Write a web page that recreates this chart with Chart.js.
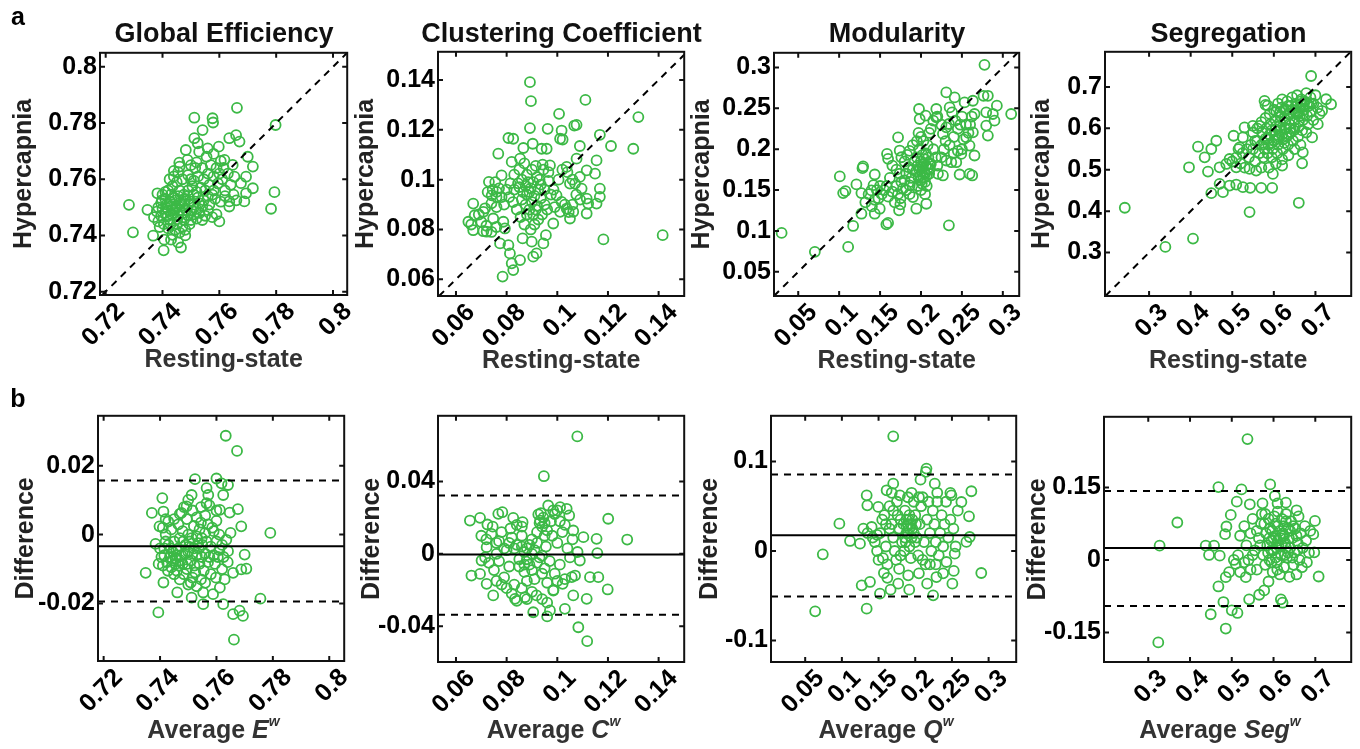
<!DOCTYPE html>
<html>
<head>
<meta charset="utf-8">
<script src="https://cdn.jsdelivr.net/npm/chart.js@4.4.1/dist/chart.umd.min.js"></script>
<style>
  body { margin: 0; background: #fff; }
  #fig { position: relative; width: 1360px; height: 749px; overflow: hidden; font-family: "Liberation Sans", Arial, sans-serif; }
  .cv { position: absolute; }
  .txt { position: absolute; font-weight: bold; white-space: nowrap; transform: translate(-50%, -50%); }
  .ttl { font-size: 27px; color: #111; }
  .tag { font-size: 25px; color: #000; }
  .xl { font-size: 25px; color: #333; }
  .xl sup { font-size: 14px; font-style: italic; position: relative; top: -3px; }
</style>
</head>
<body>
<div id="fig"></div>
<script>
// ---- tick values ----
const geTicks = [0.72, 0.74, 0.76, 0.78, 0.8];
const ccTicks = [0.06, 0.08, 0.1, 0.12, 0.14];
const modTicks = [0.05, 0.1, 0.15, 0.2, 0.25, 0.3];
const segTicks = [0.3, 0.4, 0.5, 0.6, 0.7];
const geDiffTicks = [-0.02, 0, 0.02];
const ccDiffTicks = [-0.04, 0, 0.04];
const modDiffTicks = [-0.1, 0, 0.1];
const segDiffTicks = [-0.15, 0, 0.15];

// ---- Bland-Altman lines: mean, upper limit, lower limit ----
const geLimits = [-0.0034, 0.0157, -0.0194];
const ccLimits = [-0.0004, 0.0323, -0.0337];
const modLimits = [0.0175, 0.0853, -0.0507];
const segLimits = [0.0247, 0.1425, -0.0952];

// ---- a: resting-state (x) vs hypercapnia (y) ----
const geScatter = [
  [0.7662,0.7854],[0.7512,0.7819],[0.7576,0.7817],[0.7578,0.7802],[0.7541,0.7775],[0.7798,0.7793],[0.7512,0.7746],[0.7524,0.7728],
  [0.7559,0.7710],[0.7598,0.7716],[0.7635,0.7746],[0.7659,0.7757],[0.7671,0.7734],[0.7700,0.7680],[0.7718,0.7645],[0.7694,0.7609],
  [0.7718,0.7568],[0.7694,0.7550],[0.7688,0.7521],[0.7635,0.7521],[0.7635,0.7503],[0.7676,0.7586],[0.7653,0.7609],[0.7647,0.7651],
  [0.7618,0.7669],[0.7459,0.7659],[0.7488,0.7669],[0.7482,0.7704],[0.7529,0.7698],[0.7794,0.7554],[0.7782,0.7495],[0.7282,0.7509],
  [0.7296,0.7411],[0.7347,0.7491],[0.7382,0.7550],[0.7367,0.7399],[0.7404,0.7347],[0.7465,0.7357],[0.7406,0.7385],[0.7435,0.7402],
  [0.7395,0.7470],[0.7410,0.7480],[0.7420,0.7490],[0.7400,0.7495],[0.7385,0.7500],[0.7430,0.7505],[0.7445,0.7495],[0.7415,0.7510],
  [0.7395,0.7515],[0.7425,0.7520],[0.7440,0.7480],[0.7455,0.7470],[0.7460,0.7490],[0.7470,0.7505],[0.7445,0.7525],[0.7410,0.7530],
  [0.7380,0.7485],[0.7370,0.7465],[0.7385,0.7450],[0.7405,0.7440],[0.7425,0.7455],[0.7450,0.7440],[0.7470,0.7430],[0.7445,0.7420],
  [0.7420,0.7425],[0.7460,0.7410],[0.7480,0.7400],[0.7430,0.7385],[0.7455,0.7375],[0.7475,0.7455],[0.7490,0.7470],[0.7500,0.7455],
  [0.7520,0.7460],[0.7540,0.7455],[0.7510,0.7475],[0.7530,0.7480],[0.7550,0.7470],[0.7560,0.7490],[0.7575,0.7465],[0.7600,0.7450],
  [0.7590,0.7475],[0.7480,0.7420],[0.7495,0.7440],[0.7540,0.7505],[0.7565,0.7510],[0.7510,0.7500],[0.7400,0.7545],[0.7420,0.7560],
  [0.7435,0.7575],[0.7450,0.7590],[0.7440,0.7610],[0.7425,0.7600],[0.7460,0.7560],[0.7475,0.7545],[0.7490,0.7560],[0.7505,0.7575],
  [0.7520,0.7555],[0.7535,0.7570],[0.7550,0.7560],[0.7565,0.7580],[0.7580,0.7560],[0.7595,0.7585],[0.7610,0.7600],[0.7600,0.7620],
  [0.7580,0.7610],[0.7560,0.7620],[0.7545,0.7600],[0.7525,0.7610],[0.7510,0.7595],[0.7490,0.7615],[0.7470,0.7600],[0.7455,0.7625],
  [0.7480,0.7530],[0.7500,0.7520],[0.7525,0.7535],[0.7455,0.7540],[0.7430,0.7545],[0.7410,0.7555],[0.7620,0.7560],[0.7640,0.7580],
  [0.7630,0.7620],[0.7615,0.7640],[0.7590,0.7640],[0.7570,0.7650],[0.7540,0.7640],[0.7515,0.7640],[0.7500,0.7650],[0.7555,0.7680],
  [0.7580,0.7690],[0.7605,0.7665],[0.7620,0.7540],[0.7650,0.7545],[0.7660,0.7525],[0.7605,0.7520],[0.7585,0.7530],[0.7440,0.7630],
  [0.7460,0.7645],[0.7520,0.7660],
  [0.7435,0.7488],[0.7448,0.7502],[0.7462,0.7515],[0.7478,0.7522],[0.7492,0.7510],[0.7418,0.7468],[0.7432,0.7476],[0.7452,0.7458],
  [0.7468,0.7478],[0.7485,0.7490],[0.7502,0.7488],[0.7518,0.7495],[0.7528,0.7515],[0.7545,0.7525],[0.7560,0.7540],[0.7575,0.7545],
  [0.7490,0.7540],[0.7510,0.7545],[0.7440,0.7535],[0.7465,0.7525],[0.7398,0.7525],[0.7412,0.7500],[0.7428,0.7440],[0.7390,0.7430],
  [0.7500,0.7600]
];
const ccScatter = [
  [0.0892,0.1391],[0.0896,0.1315],[0.1111,0.1320],[0.1007,0.1264],[0.1320,0.1251],[0.0892,0.1207],[0.0962,0.1204],[0.1067,0.1217],
  [0.1076,0.1220],[0.1017,0.1197],[0.1011,0.1164],[0.1021,0.1161],[0.1168,0.1180],[0.1212,0.1135],[0.1300,0.1124],[0.0807,0.1167],
  [0.0826,0.1164],[0.0866,0.1127],[0.0903,0.1144],[0.0938,0.1124],[0.0958,0.1124],[0.1089,0.1135],[0.0767,0.1104],[0.0820,0.1071],
  [0.0853,0.1084],[0.0942,0.1060],[0.0971,0.1057],[0.1037,0.1051],[0.1076,0.1084],[0.1155,0.1077],[0.1116,0.1037],[0.1149,0.1024],
  [0.0730,0.0991],[0.0780,0.1017],[0.0761,0.0951],[0.0741,0.0937],[0.0668,0.0904],[0.0674,0.0857],[0.0649,0.0831],[0.0668,0.0797],
  [0.0708,0.0793],[0.0721,0.0791],[0.0708,0.0871],[0.0747,0.0844],[0.0787,0.0831],[0.0793,0.0804],[0.0774,0.0744],[0.0807,0.0737],
  [0.0813,0.0704],[0.0820,0.0664],[0.0826,0.0637],[0.0784,0.0611],[0.0853,0.0677],[0.0905,0.0691],[0.0918,0.0704],[0.0863,0.0764],
  [0.0899,0.0751],[0.0945,0.0744],[0.0955,0.0777],[0.0984,0.0824],[0.1182,0.0760],[0.1416,0.0777],[0.1168,0.0964],[0.1168,0.0931],
  [0.1116,0.0864],[0.1122,0.0904],[0.1155,0.0904],[0.1116,0.0924],[0.1096,0.0964],[0.1070,0.0984],[0.1089,0.1011],[0.1050,0.0984],
  [0.1017,0.0911],[0.1037,0.0884],[0.1050,0.0844],[0.1063,0.0871],[0.1011,0.0871],[0.0997,0.0937],
  [0.0830,0.0960],[0.0845,0.0985],[0.0860,0.1000],[0.0875,0.0975],[0.0890,0.0950],[0.0905,0.0990],[0.0920,0.1010],[0.0935,0.0980],
  [0.0950,0.0960],[0.0965,0.0995],[0.0880,0.1020],[0.0900,0.1040],[0.0915,0.1055],[0.0860,0.0920],[0.0875,0.0900],[0.0890,0.0880],
  [0.0905,0.0860],[0.0920,0.0895],[0.0935,0.0925],[0.0950,0.0900],[0.0940,0.0860],[0.0925,0.0840],[0.0910,0.0820],[0.0895,0.0800],
  [0.0870,0.0820],[0.0855,0.0850],[0.0840,0.0880],[0.0825,0.0910],[0.0810,0.0930],[0.0800,0.0960],[0.0815,0.0985],[0.0790,0.0900],
  [0.0780,0.0930],[0.0770,0.0965],[0.0755,0.0990],[0.0745,0.0960],[0.0760,0.0930],[0.0725,0.0950],[0.0740,0.0905],[0.0760,0.0890],
  [0.0715,0.0885],[0.0690,0.0860],[0.0700,0.0830],[0.0720,0.0815],[0.0740,0.0790],[0.0760,0.0810],[0.0660,0.0820],[0.0975,0.0940],
  [0.0990,0.0890],[0.0985,0.0960],[0.0965,0.1030],[0.0945,0.1040],[0.0870,0.1065],[0.0850,0.1040],[0.0830,0.1020],[0.1030,0.0900],
  [0.1045,0.0870],[0.1060,0.0900],[0.1075,0.0940],[0.1090,0.0920],[0.1005,0.1000],[0.1020,0.1040],[0.1040,0.1030],[0.1060,0.1000],
  [0.0960,0.0880],[0.0880,0.0860],
  [0.0880,0.0940],[0.0895,0.0965],[0.0910,0.0935],[0.0925,0.0960],[0.0865,0.0950],[0.0900,0.0910],[0.0850,0.0970],[0.0930,0.1000],
  [0.0915,0.0880],[0.0885,0.0990]
];
const modScatter = [
  [0.0297,0.0976],[0.0703,0.0744],[0.1110,0.0805],[0.1171,0.1061],[0.1008,0.1667],[0.1049,0.1463],[0.1077,0.1488],[0.1211,0.1569],
  [0.1272,0.1463],[0.1285,0.1768],[0.1293,0.1789],[0.1272,0.1211],[0.1394,0.1496],[0.1435,0.1382],[0.1496,0.1272],[0.1435,0.1211],
  [0.1577,0.1081],[0.1598,0.1098],[0.1435,0.1691],[0.1585,0.1943],[0.1598,0.1882],[0.1720,0.2146],[0.1740,0.1984],[0.1760,0.1902],
  [0.1732,0.1252],[0.1748,0.1325],[0.1862,0.1557],[0.1902,0.1415],[0.1943,0.1272],[0.2065,0.1333],[0.1976,0.2492],[0.1984,0.2370],
  [0.2057,0.2411],[0.2187,0.2492],[0.2187,0.2390],[0.2309,0.2695],[0.2411,0.2634],[0.2350,0.2512],[0.2533,0.2573],[0.2634,0.2593],
  [0.2764,0.2654],[0.2817,0.2654],[0.2776,0.3033],[0.2927,0.2533],[0.3102,0.2431],[0.2878,0.2431],[0.2797,0.2451],[0.2898,0.2350],
  [0.2797,0.2289],[0.2817,0.2167],[0.2654,0.2431],[0.2634,0.2207],[0.2553,0.2146],[0.2593,0.2045],[0.2654,0.1923],[0.2593,0.1699],
  [0.2626,0.1679],[0.2472,0.1691],[0.2492,0.1943],[0.2341,0.2309],[0.2309,0.2268],[0.2341,0.1069],[0.2268,0.2187],[0.2309,0.1862],
  [0.2370,0.1841],[0.2431,0.1841],[0.2207,0.1699],[0.2268,0.1679],[0.2106,0.1821],
  [0.1960,0.1800],[0.1980,0.1750],[0.2000,0.1850],[0.2020,0.1780],[0.2040,0.1720],[0.2060,0.1800],[0.2080,0.1760],[0.2030,0.1650],
  [0.2050,0.1600],[0.2070,0.1550],[0.2010,0.1580],[0.1990,0.1680],[0.2100,0.1700],[0.2120,0.1820],[0.2090,0.1900],[0.2060,0.1950],
  [0.2020,0.1930],[0.1980,0.2000],[0.1950,0.1900],[0.1920,0.1850],[0.1900,0.1750],[0.1880,0.1650],[0.1850,0.1780],[0.1820,0.1700],
  [0.1800,0.1620],[0.1780,0.1520],[0.1760,0.1600],[0.1740,0.1700],[0.1800,0.1850],[0.1830,0.1930],[0.1860,0.1980],[0.1900,0.2050],
  [0.1950,0.2100],[0.2000,0.2150],[0.2030,0.2100],[0.1970,0.2200],[0.2080,0.2050],[0.2150,0.2000],[0.2180,0.1900],[0.2200,0.1800],
  [0.2250,0.1900],[0.2280,0.2000],[0.2300,0.2100],[0.2350,0.2050],[0.2400,0.2150],[0.2450,0.2250],[0.2480,0.2300],[0.2500,0.2400],
  [0.2420,0.2350],[0.2380,0.2450],[0.2550,0.2300],[0.2580,0.2200],[0.2600,0.2300],[0.2620,0.2400],[0.2520,0.2120],[0.2500,0.2000],
  [0.2450,0.1980],[0.2400,0.1950],[0.2250,0.2300],[0.2200,0.2400],[0.2150,0.2350],[0.2120,0.2250],[0.2100,0.2200],[0.1700,0.1750],
  [0.1650,0.1800],[0.1620,0.1650],[0.1580,0.1550],[0.1550,0.1500],[0.1500,0.1550],[0.1460,0.1500],[0.1420,0.1560],[0.1360,0.1450],
  [0.1320,0.1350],[0.1400,0.1300],[0.1480,0.1400],[0.1520,0.1450],[0.1600,0.1420],[0.1650,0.1480],[0.1700,0.1550],[0.1720,0.1450],
  [0.1680,0.1350],[0.1750,0.1400],[0.1820,0.1500],[0.1860,0.1450],[0.1870,0.1600],[0.1960,0.1550],[0.2000,0.1500],[0.2050,0.1450],
  [0.1990,0.1780],[0.2010,0.1720],[0.2030,0.1820],[0.2050,0.1700],[0.1970,0.1650],[0.2070,0.1680],[0.2040,0.1880],[0.1940,0.1730],
  [0.2110,0.1760],[0.2000,0.1620]
];
const segScatter = [
  [0.2416,0.4082],[0.3392,0.3136],[0.4056,0.3337],[0.5416,0.3978],[0.6600,0.4202],[0.3960,0.5060],[0.4176,0.5557],[0.4336,0.5301],
  [0.4496,0.5501],[0.4616,0.5701],[0.4416,0.4956],[0.4496,0.4435],[0.4696,0.4659],[0.4776,0.4459],[0.4936,0.4619],[0.5096,0.4643],
  [0.5256,0.4579],[0.5432,0.4563],[0.5696,0.4563],[0.5960,0.4563],[0.4696,0.5060],[0.4856,0.5140],[0.4936,0.5260],[0.5032,0.5822],
  [0.5296,0.6022],[0.5496,0.6062],[0.5656,0.6062],[0.5776,0.6663],[0.5800,0.6567],[0.6896,0.7265],[0.7376,0.6583],[0.7256,0.6703],
  [0.7160,0.6423],[0.7056,0.6102],[0.6920,0.5782],[0.6696,0.5421],[0.6680,0.5156],[0.5976,0.4900],[0.5176,0.5541],[0.5256,0.5782],
  [0.5096,0.5060],[0.5416,0.5020],[0.5576,0.4980],
  [0.5400,0.5300],[0.5500,0.5500],[0.5550,0.5200],[0.5600,0.5700],[0.5650,0.5400],[0.5700,0.5600],[0.5720,0.5900],[0.5750,0.5300],
  [0.5780,0.5500],[0.5800,0.5750],[0.5820,0.6000],[0.5850,0.5400],[0.5870,0.5600],[0.5900,0.5850],[0.5920,0.6100],[0.5950,0.5300],
  [0.5970,0.5500],[0.6000,0.5700],[0.6020,0.5950],[0.6040,0.6200],[0.6060,0.6400],[0.6080,0.5400],[0.6100,0.5600],[0.6120,0.5800],
  [0.6140,0.6050],[0.6160,0.6300],[0.6180,0.6500],[0.6200,0.5250],[0.6220,0.5500],[0.6240,0.5750],[0.6260,0.6000],[0.6280,0.6200],
  [0.6300,0.6450],[0.6320,0.6650],[0.6340,0.5600],[0.6360,0.5850],[0.6380,0.6100],[0.6400,0.6350],[0.6420,0.6550],[0.6440,0.6750],
  [0.6460,0.5700],[0.6480,0.5950],[0.6500,0.6200],[0.6520,0.6400],[0.6540,0.6600],[0.6560,0.6800],[0.6580,0.5800],[0.6600,0.6050],
  [0.6620,0.6300],[0.6640,0.6500],[0.6660,0.6700],[0.6680,0.5950],[0.6700,0.6200],[0.6720,0.6450],[0.6740,0.6650],[0.6780,0.6850],
  [0.6800,0.6300],[0.6820,0.6100],[0.6850,0.6550],[0.6880,0.6750],[0.6900,0.6400],[0.6950,0.6600],[0.7000,0.6800],[0.7050,0.6500],
  [0.7100,0.6350],[0.6950,0.6200],[0.6780,0.5900],[0.6640,0.5600],[0.6500,0.5500],[0.6350,0.5350],[0.6200,0.5100],[0.6050,0.5150],
  [0.5880,0.5050],[0.5700,0.5050],[0.5550,0.5700],[0.5450,0.5600],[0.5350,0.5500],[0.5250,0.5400],[0.5150,0.5500],[0.5100,0.5300],
  [0.5000,0.5200],[0.5200,0.5150],[0.5300,0.5050],[0.5500,0.5900],[0.5600,0.6000],[0.5700,0.6150],[0.5800,0.6250],[0.5900,0.6350],
  [0.6000,0.6450],[0.6100,0.6600],[0.6200,0.6700],[0.6300,0.6000],[0.6150,0.5950],[0.6050,0.5850],[0.5950,0.5650],[0.6250,0.5650],
  [0.6400,0.6000],[0.6550,0.6350],[0.5850,0.6550],
  [0.6050,0.6050],[0.6150,0.6150],[0.6250,0.6250],[0.6350,0.6350],[0.6450,0.6450],[0.6550,0.6550],[0.6650,0.6650],[0.6100,0.5750],
  [0.6200,0.5850],[0.6300,0.5800],[0.6400,0.5900],[0.6500,0.6000],[0.6600,0.6150],[0.6700,0.6350],[0.6800,0.6600],[0.5950,0.5950],
  [0.5850,0.5750],[0.5750,0.5650],[0.6350,0.6550],[0.6250,0.6450],[0.6150,0.6400],[0.6700,0.6550],[0.6900,0.6600],[0.6600,0.6400]
];

// ---- b: average (x) vs difference (y) ----
const geDiff = [
  [0.7633,0.0287],[0.7673,0.0243],[0.7524,0.0161],[0.7600,0.0163],[0.7618,0.0149],[0.7641,0.0144],[0.7565,0.0135],[0.7571,0.0115],
  [0.7624,0.0115],[0.7565,0.0091],[0.7408,0.0106],[0.7500,0.0101],[0.7512,0.0115],[0.7494,0.0082],[0.7371,0.0063],[0.7412,0.0067],
  [0.7476,0.0063],[0.7612,0.0072],[0.7647,0.0064],[0.7676,0.0074],[0.7688,0.0024],[0.7791,0.0005],[0.7398,0.0024],[0.7429,0.0038],
  [0.7384,-0.0027],[0.7700,-0.0058],[0.7688,-0.0101],[0.7706,-0.0099],[0.7349,-0.0111],[0.7412,-0.0139],[0.7461,-0.0168],[0.7509,-0.0139],
  [0.7553,-0.0168],[0.7588,-0.0173],[0.7512,-0.0183],[0.7553,-0.0202],[0.7659,-0.0111],[0.7629,-0.0130],[0.7612,-0.0154],[0.7624,-0.0202],
  [0.7659,-0.0231],[0.7682,-0.0221],[0.7694,-0.0236],[0.7756,-0.0186],[0.7394,-0.0226],[0.7662,-0.0305],[0.7598,-0.0125],[0.7641,-0.0048],
  [0.7400,-0.0040],[0.7415,-0.0060],[0.7425,-0.0080],[0.7410,-0.0090],[0.7430,-0.0030],[0.7445,-0.0050],[0.7455,-0.0070],[0.7440,-0.0095],
  [0.7465,-0.0040],[0.7475,-0.0060],[0.7480,-0.0085],[0.7460,-0.0105],[0.7490,-0.0030],[0.7500,-0.0050],[0.7510,-0.0075],[0.7495,-0.0100],
  [0.7520,-0.0040],[0.7530,-0.0060],[0.7540,-0.0085],[0.7525,-0.0110],[0.7550,-0.0030],[0.7560,-0.0055],[0.7570,-0.0080],[0.7555,-0.0105],
  [0.7580,-0.0035],[0.7590,-0.0060],[0.7600,-0.0020],[0.7610,-0.0045],[0.7620,-0.0030],[0.7450,-0.0020],[0.7470,-0.0010],[0.7500,0.0000],
  [0.7530,-0.0005],[0.7560,0.0005],[0.7590,0.0010],[0.7610,0.0000],[0.7480,0.0010],[0.7440,0.0015],[0.7420,0.0000],[0.7520,0.0025],
  [0.7545,0.0035],[0.7570,0.0030],[0.7600,0.0040],[0.7495,0.0045],[0.7465,0.0030],[0.7530,0.0050],[0.7560,0.0055],[0.7585,0.0020],
  [0.7540,0.0015],[0.7420,-0.0020],[0.7435,-0.0065],[0.7455,-0.0085],[0.7485,-0.0115],[0.7515,-0.0125],[0.7545,-0.0130],[0.7505,-0.0020],
  [0.7535,-0.0025],[0.7565,-0.0020],[0.7595,-0.0085],[0.7625,-0.0065],[0.7640,-0.0080],[0.7405,-0.0065],[0.7395,-0.0085],[0.7450,-0.0115],
  [0.7470,-0.0130],[0.7500,-0.0145],[0.7530,-0.0150],[0.7560,-0.0140],[0.7580,-0.0115],[0.7620,-0.0100],[0.7635,-0.0015],[0.7650,0.0005],
  [0.7600,0.0070],[0.7575,0.0085],[0.7470,0.0060],[0.7450,0.0045],[0.7515,0.0070],[0.7545,0.0080],[0.7485,0.0080],[0.7420,0.0045],
  [0.7410,0.0020],
  [0.7458,-0.0045],[0.7472,-0.0075],[0.7488,-0.0055],[0.7502,-0.0035],[0.7515,-0.0055],[0.7522,-0.0090],[0.7538,-0.0040],[0.7548,-0.0065],
  [0.7458,-0.0060],[0.7438,-0.0040],[0.7428,-0.0105],[0.7482,-0.0020],[0.7512,-0.0010],[0.7548,-0.0010],[0.7575,-0.0065],[0.7605,-0.0065],
  [0.7498,-0.0085],[0.7468,-0.0090],[0.7445,-0.0075],[0.7415,-0.0040]
];
const ccDiff = [
  [0.1079,0.0649],[0.0947,0.0429],[0.0655,0.0184],[0.0695,0.0199],[0.0724,0.0162],[0.0767,0.0221],[0.0783,0.0230],[0.0826,0.0199],
  [0.0863,0.0175],[0.0925,0.0218],[0.0932,0.0184],[0.0964,0.0267],[0.0984,0.0240],[0.1011,0.0258],[0.1037,0.0249],[0.1047,0.0212],
  [0.1201,0.0194],[0.1155,0.0083],[0.1276,0.0079],[0.1158,0.0004],[0.1103,0.0092],[0.1063,0.0129],[0.1089,-0.0037],[0.1199,-0.0197],
  [0.1116,-0.0249],[0.1063,-0.0230],[0.1030,-0.0304],[0.0971,-0.0313],[0.0960,-0.0346],[0.0905,-0.0323],[0.1083,-0.0406],[0.1118,-0.0483],
  [0.0747,-0.0230],[0.0833,-0.0249],[0.0872,-0.0240],[0.0918,-0.0230],[0.0695,-0.0111],[0.0721,-0.0166],[0.0661,-0.0120],[0.0701,-0.0037],
  [0.0760,0.0000],[0.0721,0.0037],[0.1057,-0.0129],[0.1070,-0.0120],[0.1129,-0.0129],[0.1162,-0.0129],[0.1021,-0.0166],[0.0984,-0.0203],
  [0.0720,0.0080],[0.0740,0.0110],[0.0760,0.0060],[0.0780,0.0120],[0.0800,0.0020],[0.0820,0.0090],[0.0840,0.0050],[0.0860,0.0100],
  [0.0880,0.0030],[0.0900,0.0080],[0.0920,0.0120],[0.0940,0.0150],[0.0950,0.0170],[0.0960,0.0130],[0.0945,0.0200],[0.0980,0.0100],
  [0.1000,0.0060],[0.1020,0.0120],[0.1040,0.0030],[0.1060,0.0080],[0.1080,0.0010],[0.1010,0.0180],[0.1030,0.0160],[0.0730,-0.0050],
  [0.0750,-0.0090],[0.0770,-0.0040],[0.0790,-0.0130],[0.0810,-0.0070],[0.0830,-0.0170],[0.0850,-0.0030],[0.0870,-0.0100],[0.0890,-0.0060],
  [0.0910,-0.0140],[0.0930,-0.0020],[0.0950,-0.0080],[0.0970,-0.0040],[0.0990,-0.0110],[0.1010,-0.0060],[0.1030,-0.0140],[0.1050,-0.0020],
  [0.0860,-0.0190],[0.0880,-0.0150],[0.0900,-0.0210],[0.0820,-0.0220],[0.0800,-0.0190],[0.0780,-0.0170],[0.0760,-0.0150],[0.0900,0.0000],
  [0.0920,-0.0050],[0.0940,-0.0110],[0.0960,-0.0160],[0.0985,-0.0200],[0.1000,-0.0150],[0.0870,0.0010],[0.0850,-0.0070],[0.0830,0.0030],
  [0.0810,0.0060],[0.0790,0.0030],[0.0770,0.0070],[0.0955,0.0040],[0.0975,0.0180],[0.0990,0.0220],[0.1000,0.0240],[0.0880,-0.0250],
  [0.0840,-0.0260],[0.0940,-0.0250],[0.0960,-0.0270],[0.0935,0.0225],[0.0860,0.0150],[0.0840,0.0160],[0.0815,0.0140],[0.0745,0.0150],
  [0.0700,0.0100],[0.0715,-0.0020],
  [0.0890,0.0050],[0.0910,0.0020],[0.0880,-0.0030],[0.0860,0.0040],[0.0920,0.0060],[0.0940,-0.0010],[0.0870,-0.0060],[0.0900,-0.0090],
  [0.0950,0.0100],[0.0930,0.0170]
];
const modDiff = [
  [0.1700,0.1281],[0.2153,0.0920],[0.2144,0.0883],[0.2072,0.0797],[0.1700,0.0752],[0.1610,0.0678],[0.1791,0.0622],[0.2266,0.0752],
  [0.2765,0.0667],[0.2479,0.0648],[0.2493,0.0622],[0.2629,0.0547],[0.2733,0.0387],[0.0966,0.0305],[0.1111,0.0112],[0.1338,0.0622],
  [0.1347,0.0510],[0.1496,0.0492],[0.1406,0.0268],[0.1293,0.0250],[0.1247,0.0082],[0.0740,-0.0037],[0.0636,-0.0674],[0.1338,-0.0644],
  [0.1270,-0.0384],[0.1383,-0.0346],[0.1519,-0.0477],[0.1664,-0.0432],[0.1573,-0.0246],[0.1768,-0.0365],[0.1918,-0.0432],[0.1904,-0.0272],
  [0.2162,-0.0365],[0.2244,-0.0495],[0.2289,-0.0291],[0.2506,-0.0365],[0.2525,-0.0223],[0.2900,-0.0246],[0.2425,-0.0123],[0.2538,-0.0030],
  [0.2697,0.0101],[0.2742,0.0156],
  [0.1450,0.0100],[0.1480,0.0000],[0.1500,-0.0100],[0.1520,0.0200],[0.1550,0.0350],[0.1580,0.0400],[0.1600,0.0050],[0.1620,-0.0150],
  [0.1650,0.0250],[0.1680,0.0300],[0.1700,0.0150],[0.1720,0.0000],[0.1740,-0.0100],[0.1760,0.0400],[0.1780,0.0250],[0.1800,0.0350],
  [0.1820,0.0100],[0.1840,0.0300],[0.1860,0.0450],[0.1880,0.0200],[0.1900,0.0300],[0.1920,0.0050],[0.1940,-0.0080],[0.1960,0.0250],
  [0.1980,0.0550],[0.2000,0.0400],[0.2020,0.0150],[0.2040,-0.0050],[0.2060,0.0300],[0.2080,0.0500],[0.2100,0.0600],[0.2120,0.0100],
  [0.2140,-0.0150],[0.2160,0.0350],[0.2180,0.0550],[0.2200,0.0200],[0.2220,0.0000],[0.2240,0.0450],[0.2260,0.0300],[0.2280,0.0100],
  [0.2300,0.0550],[0.2320,-0.0050],[0.2340,0.0200],[0.2360,0.0400],[0.2380,0.0050],[0.2400,0.0300],[0.2420,0.0550],[0.2450,0.0150],
  [0.2480,0.0350],[0.2520,0.0250],[0.2550,0.0050],[0.2580,0.0450],[0.1850,0.0000],[0.1800,-0.0050],[0.1750,0.0550],[0.1700,0.0450],
  [0.1650,0.0500],[0.1600,0.0300],[0.1900,0.0600],[0.1950,0.0650],[0.2050,0.0600],[0.1920,0.0400],[0.1880,0.0350],[0.1860,0.0150],
  [0.2000,0.0100],[0.2100,-0.0100],[0.2200,-0.0150],[0.1560,-0.0080],[0.1480,0.0180],[0.1420,0.0150],[0.1350,0.0200],[0.1620,-0.0300],
  [0.1780,-0.0200],[0.2050,-0.0250],[0.2280,-0.0150],[0.2380,-0.0250],[0.1680,0.0650],[0.2300,0.0650],
  [0.1900,0.0200],[0.1920,0.0250],[0.1940,0.0300],[0.1960,0.0350],[0.1880,0.0280],[0.1980,0.0200],[0.1910,0.0350],[0.1870,0.0100],
  [0.2010,0.0300],[0.1950,0.0150]
];
const segDiff = [
  [0.5376,0.2500],[0.5920,0.1562],[0.4680,0.1507],[0.5232,0.1459],[0.6032,0.1322],[0.5120,0.1205],[0.5432,0.1151],[0.5736,0.1171],
  [0.6096,0.1171],[0.6296,0.1185],[0.6552,0.1027],[0.3696,0.0774],[0.4976,0.0932],[0.4872,0.0692],[0.4840,0.0534],[0.3272,0.0295],
  [0.4376,0.0295],[0.4456,0.0103],[0.4712,0.0089],[0.4576,0.0295],[0.6992,0.0808],[0.6952,0.0534],[0.6976,0.0158],[0.7080,-0.0342],
  [0.3240,-0.1705],[0.4680,-0.0548],[0.4800,-0.0870],[0.4496,-0.1123],[0.4856,-0.1418],[0.5000,-0.1041],[0.5136,-0.1096],[0.5416,-0.0815],
  [0.5656,-0.0719],[0.5776,-0.0630],[0.6176,-0.0815],[0.6216,-0.0884],[0.5880,-0.0445],[0.5336,-0.0356],[0.4936,-0.0253],[0.4856,-0.0356],
  [0.5096,-0.0082],
  [0.5200,0.0500],[0.5300,0.0700],[0.5350,0.0300],[0.5400,0.0000],[0.5450,0.0550],[0.5500,0.0850],[0.5550,0.0200],[0.5600,-0.0200],
  [0.5650,0.0450],[0.5700,0.0750],[0.5720,0.0950],[0.5750,0.0100],[0.5800,-0.0100],[0.5820,0.0550],[0.5850,0.0300],[0.5880,0.0850],
  [0.5900,0.0000],[0.5920,0.0650],[0.5950,0.0400],[0.5980,-0.0250],[0.6000,0.0200],[0.6020,0.0900],[0.6050,0.0500],[0.6080,-0.0050],
  [0.6100,0.0700],[0.6120,0.0300],[0.6150,-0.0300],[0.6180,0.0100],[0.6200,0.0850],[0.6220,0.0550],[0.6250,-0.0150],[0.6280,0.0350],
  [0.6300,0.0950],[0.6320,0.0050],[0.6350,0.0650],[0.6380,-0.0350],[0.6400,0.0250],[0.6420,0.0800],[0.6450,0.0450],[0.6480,-0.0100],
  [0.6500,0.0150],[0.6520,0.0650],[0.6550,-0.0300],[0.6580,0.0350],[0.6600,0.0900],[0.6620,0.0000],[0.6650,0.0550],[0.6680,-0.0150],
  [0.6700,0.0250],[0.6750,0.0700],[0.6780,0.0400],[0.6800,-0.0050],[0.6850,0.0150],[0.6880,0.0600],[0.5600,0.0600],[0.5680,0.0300],
  [0.5780,0.0750],[0.5870,0.0150],[0.5970,0.0600],[0.6070,0.0250],[0.6170,0.0450],[0.6270,0.0100],[0.6370,0.0450],[0.6470,0.0700],
  [0.6570,0.0200],[0.6090,-0.0200],[0.5950,-0.0050],[0.5450,-0.0200],[0.5300,-0.0050],[0.5150,0.0100],[0.5050,0.0000],[0.5200,-0.0250],
  [0.5500,0.0100],[0.6300,0.0800],[0.6100,0.1000],[0.5800,0.0950],
  [0.6000,0.0450],[0.6100,0.0400],[0.6200,0.0300],[0.6300,0.0250],[0.6400,0.0600],[0.6150,0.0600],[0.6050,0.0050],[0.5950,0.0200],
  [0.6250,0.0500],[0.6350,0.0150],[0.6450,0.0050],[0.6550,0.0500],[0.5900,0.0450],[0.6050,0.0750],[0.6250,0.0700]
];

const topTitles = ['Global Efficiency', 'Clustering Coefficient', 'Modularity', 'Segregation'];
const avgSymbols = ['E', 'C', 'Q', 'Seg'];

// ---- layout (plot box in page pixels: left, top, width, height) ----
const GREEN = 'rgb(60,185,70)';
const FONT = '"Liberation Sans", Arial, sans-serif';
const panels = [
  {pts: geScatter, box: [100, 52, 248, 243], ml: 91, xr: [0.718, 0.805], yr: [0.7188, 0.805], xt: geTicks, yt: geTicks, yTitle: 'Hypercapnia', xTitle: 'Resting-state'},
  {pts: ccScatter, box: [438, 51, 247, 245], ml: 87, xr: [0.0529, 0.1501], yr: [0.0533, 0.1513], xt: ccTicks, yt: ccTicks, yTitle: 'Hypercapnia', xTitle: 'Resting-state'},
  {pts: modScatter, box: [774, 52, 246, 244], ml: 87, xr: [0.0204, 0.320], yr: [0.0204, 0.318], xt: modTicks, yt: modTicks, yTitle: 'Hypercapnia', xTitle: 'Resting-state'},
  {pts: segScatter, box: [1105, 51, 247, 245], ml: 78, xr: [0.194, 0.786], yr: [0.195, 0.785], xt: segTicks, yt: segTicks, yTitle: 'Hypercapnia', xTitle: 'Resting-state'},
  {pts: geDiff, box: [98, 415, 247, 246], ml: 87, xr: [0.718, 0.8053], yr: [-0.0367, 0.0345], xt: geTicks, yt: geDiffTicks, yTitle: 'Difference', lim: geLimits},
  {pts: ccDiff, box: [438, 415, 247, 247], ml: 81, xr: [0.0529, 0.1501], yr: [-0.0598, 0.0763], xt: ccTicks, yt: ccDiffTicks, yTitle: 'Difference', lim: ccLimits},
  {pts: modDiff, box: [771, 415, 246, 247], ml: 76, xr: [0.0034, 0.3376], yr: [-0.124, 0.151], xt: modTicks, yt: modDiffTicks, yTitle: 'Difference', lim: modLimits},
  {pts: segDiff, box: [1104, 416, 248, 246], ml: 81, xr: [0.194, 0.786], yr: [-0.211, 0.296], xt: segTicks, yt: segDiffTicks, yTitle: 'Difference', lim: segLimits}
];

// box with inward tick marks on all four sides
const frame = {
  id: 'frame',
  afterDatasetsDraw(chart) {
    const {ctx, chartArea: a, scales: {x, y}} = chart;
    ctx.save();
    ctx.strokeStyle = '#111';
    ctx.lineWidth = 2;
    ctx.strokeRect(a.left, a.top, a.right - a.left, a.bottom - a.top);
    ctx.beginPath();
    x.ticks.forEach(t => {
      const p = x.getPixelForValue(t.value);
      ctx.moveTo(p, a.bottom); ctx.lineTo(p, a.bottom - 5);
      ctx.moveTo(p, a.top); ctx.lineTo(p, a.top + 5);
    });
    y.ticks.forEach(t => {
      const p = y.getPixelForValue(t.value);
      ctx.moveTo(a.left, p); ctx.lineTo(a.left + 5, p);
      ctx.moveTo(a.right, p); ctx.lineTo(a.right - 5, p);
    });
    ctx.stroke();
    ctx.restore();
  }
};

const fig = document.getElementById('fig');
function addText(cls, html, x, y) {
  const d = document.createElement('div');
  d.className = 'txt ' + cls;
  d.innerHTML = html;
  d.style.left = x + 'px';
  d.style.top = y + 'px';
  fig.appendChild(d);
}

function hline(v, xr, dash, w) {
  return {type: 'scatter', showLine: true, data: [{x: xr[0], y: v}, {x: xr[1], y: v}], borderColor: '#000',
    borderWidth: w, borderDash: dash, pointRadius: 0, order: 1};
}

panels.forEach((p, i) => {
  const top = i < 4;
  const mt = 6, mr = 6, mb = top ? 80 : 62;
  const [bl, bt, bw, bh] = p.box;
  const W = bw + p.ml + mr, H = bh + mt + mb;
  const c = document.createElement('canvas');
  c.className = 'cv';
  c.width = W; c.height = H;
  c.style.left = (bl - p.ml) + 'px';
  c.style.top = (bt - mt) + 'px';
  c.style.width = W + 'px'; c.style.height = H + 'px';
  fig.appendChild(c);

  const datasets = [{
    data: p.pts.map(q => ({x: q[0], y: q[1]})),
    pointStyle: 'circle', pointRadius: 5, pointBorderWidth: 1.8,
    pointBorderColor: GREEN, pointBackgroundColor: 'rgba(0,0,0,0)', order: 2
  }];
  if (top) {
    const lo = Math.max(p.xr[0], p.yr[0]), hi = Math.min(p.xr[1], p.yr[1]);
    datasets.push({type: 'scatter', showLine: true, data: [{x: lo, y: lo}, {x: hi, y: hi}], borderColor: '#000',
      borderWidth: 2, borderDash: [7, 6], pointRadius: 0, order: 1});
  } else {
    datasets.push(hline(p.lim[0], p.xr, [], 2));
    datasets.push(hline(p.lim[1], p.xr, [7, 6], 2));
    datasets.push(hline(p.lim[2], p.xr, [7, 6], 2));
  }

  const tickFont = {family: FONT, size: 25, weight: 'bold'};
  new Chart(c, {
    type: 'scatter',
    data: {datasets},
    options: {
      responsive: false, animation: false, events: [],
      layout: {padding: {left: 0, top: mt, right: mr, bottom: 0}},
      plugins: {legend: {display: false}, tooltip: {enabled: false}},
      scales: {
        x: {
          type: 'linear', min: p.xr[0], max: p.xr[1],
          afterBuildTicks: s => { s.ticks = p.xt.map(v => ({value: v})); },
          afterFit: s => { s.height = mb; s.paddingLeft = 0; s.paddingRight = 0; },
          grid: {display: false, drawTicks: false}, border: {display: false},
          ticks: {font: tickFont, color: '#000', minRotation: 45, maxRotation: 45, autoSkip: false,
            padding: 2, labelOffset: 15, callback: v => String(v)},
          title: {display: top, text: p.xTitle || '', font: {family: FONT, size: 25, weight: 'bold'}, color: '#333', padding: 0}
        },
        y: {
          type: 'linear', min: p.yr[0], max: p.yr[1],
          afterBuildTicks: s => { s.ticks = p.yt.map(v => ({value: v})); },
          afterFit: s => { s.width = p.ml; s.paddingTop = 0; s.paddingBottom = 0; },
          grid: {display: false, drawTicks: false}, border: {display: false},
          ticks: {font: tickFont, color: '#000', padding: 3, autoSkip: false, callback: v => String(v)},
          title: {display: true, text: p.yTitle, font: {family: FONT, size: 25, weight: 'bold'}, color: '#222', padding: 0}
        }
      }
    },
    plugins: [frame]
  });

  const cx = bl + bw / 2;
  if (top) addText('ttl', topTitles[i], cx, 33);
  else addText('xl', 'Average <i>' + avgSymbols[i - 4] + '</i><sup>w</sup>', cx - 8, 729);
});

addText('tag', 'a', 18, 16);
addText('tag', 'b', 18, 398);
</script>
</body>
</html>
